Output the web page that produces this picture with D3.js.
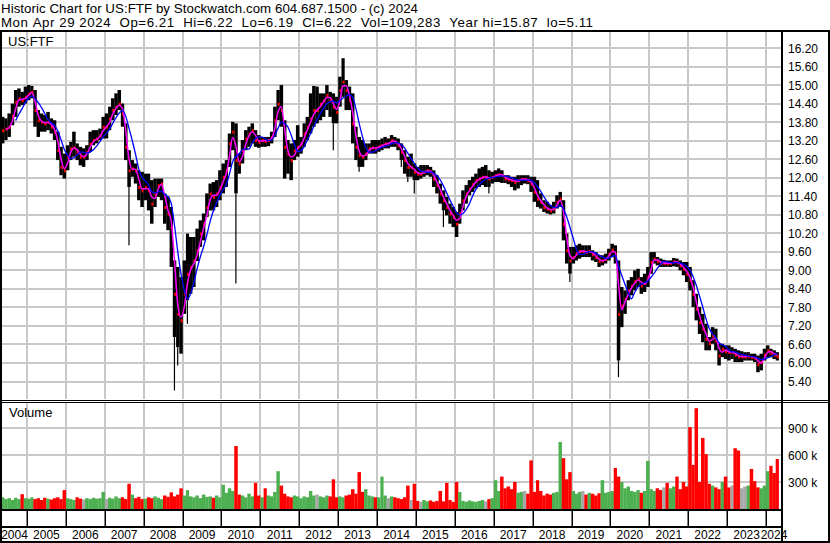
<!DOCTYPE html>
<html>
<head>
<meta charset="utf-8">
<script src="https://cdn.jsdelivr.net/npm/d3@7"></script>
<style>
body { margin: 0; background: #fff; }
svg { display: block; font-family: "Liberation Sans", Arial, sans-serif; }
</style>
</head>
<body>
<div id="chart"></div>
<script>
var width = 830,
  height = 543;

var title = "Historic Chart for US:FTF by Stockwatch.com 604.687.1500 - (c) 2024";
var quote = "Mon Apr 29 2024  Op=6.21  Hi=6.22  Lo=6.19  Cl=6.22  Vol=109,283  Year hi=15.87  lo=5.11";
var symbol = "US:FTF";

// monthly bars, first one is May 2004, last one Apr 2024
var firstMonth = new Date(2004, 4, 1);
var lastDay = new Date(2024, 3, 29);
var years = [2004, 2005, 2006, 2007, 2008, 2009, 2010, 2011, 2012, 2013, 2014,
  2015, 2016, 2017, 2018, 2019, 2020, 2021, 2022, 2023, 2024];
var priceTicks = [5.40, 6.00, 6.60, 7.20, 7.80, 8.40, 9.00, 9.60, 10.20, 10.80,
  11.40, 12.00, 12.60, 13.20, 13.80, 14.40, 15.00, 15.60, 16.20];
var volTicks = [300, 600, 900]; // thousands

var closes = [
  13.54, 13.59, 13.65, 14.0, 14.46, 14.57, 14.51, 14.62,
  14.73, 14.78, 14.19, 13.86, 13.81, 13.76, 13.81, 13.65, 13.49, 12.89, 12.35, 12.24,
  12.68, 12.95, 12.98, 12.84, 12.68, 12.68, 12.84, 13.11, 13.22, 13.27, 13.38, 13.65,
  13.65, 13.92, 14.19, 14.30, 14.40, 14.08, 13.0, 12.24, 12.30, 12.24, 11.70, 11.59,
  11.70, 11.59, 11.16, 11.49, 11.76, 11.81, 11.05, 10.84, 10.4, 8.24, 7.59, 7.38,
  8.24, 8.89, 9.11, 9.32, 9.65, 10.19, 10.51, 11.05, 11.49, 11.38, 11.49, 11.70,
  12.03, 12.24, 13.11, 13.49, 12.57, 12.46, 12.89, 13.27, 13.43, 13.54, 13.22, 13.16,
  13.22, 13.19, 13.22, 13.32, 13.86, 14.40, 14.19, 13.0, 12.78, 12.57, 12.89, 13.0,
  13.11, 13.43, 13.65, 13.92, 14.19, 14.19, 14.40, 14.51, 14.68, 14.51, 14.30, 14.13,
  14.84, 15.11, 14.84, 14.51, 13.76, 13.0, 12.73, 12.68, 12.78, 12.95, 12.98, 12.95,
  13.02, 13.05, 13.11, 13.11, 13.22, 13.16, 13.05, 12.84, 12.57, 12.35, 12.35, 12.19,
  12.13, 12.13, 12.19, 12.24, 12.19, 11.97, 11.76, 11.49, 11.27, 11.05, 10.84, 10.73,
  10.51, 10.84, 11.27, 11.49, 11.65, 11.79, 11.92, 11.97, 12.03, 12.03, 11.97, 12.03,
  12.08, 12.11, 12.08, 11.97, 11.94, 11.92, 11.86, 11.92, 11.96, 11.96, 11.92, 11.81,
  11.54, 11.32, 11.22, 11.05, 11.0, 10.94, 11.0, 11.22, 11.32, 10.51, 9.65, 9.32,
  9.43, 9.56, 9.63, 9.63, 9.59, 9.63, 9.52, 9.43, 9.30, 9.32, 9.38, 9.54,
  9.67, 9.54, 7.59, 7.86, 8.08, 8.35, 8.51, 8.65, 8.73, 8.51, 8.59, 8.78,
  9.27, 9.38, 9.30, 9.24, 9.24, 9.22, 9.24, 9.29, 9.26, 9.16, 9.05, 8.89,
  8.68, 8.24, 7.76, 7.32, 7.11, 6.78, 6.64, 6.89, 6.73, 6.24, 6.46, 6.38,
  6.35, 6.35, 6.27, 6.21, 6.21, 6.21, 6.22, 6.19, 6.17, 5.97, 6.03, 6.27,
  6.41, 6.33, 6.27, 6.22
];

var highs = [
  13.97, 13.92, 14.08, 14.40, 14.84, 14.89, 14.78, 14.95,
  15.0, 14.97, 14.84, 14.19, 14.08, 14.03, 14.13, 13.92, 13.86, 13.49, 13.0, 12.78,
  13.05, 13.16, 13.49, 13.11, 13.0, 12.95, 13.05, 13.49, 13.54, 13.54, 13.59, 13.97,
  14.08, 14.30, 14.57, 14.73, 14.84, 14.40, 13.76, 12.89, 12.57, 12.46, 12.24, 12.19,
  12.13, 12.13, 11.92, 11.97, 11.97, 11.97, 11.49, 11.38, 11.05, 9.32, 9.11, 8.78,
  9.32, 10.19, 10.08, 10.08, 10.35, 10.62, 10.84, 11.49, 11.81, 11.86, 11.92, 12.24,
  12.46, 12.57, 13.43, 13.81, 13.76, 12.78, 13.22, 13.54, 13.65, 13.76, 13.54, 13.38,
  13.32, 13.32, 13.32, 13.49, 14.30, 14.84, 15.0, 13.86, 13.22, 13.11, 13.22, 13.70,
  13.32, 13.76, 13.97, 14.73, 14.97, 14.95, 14.73, 14.73, 15.0, 14.78, 14.73, 14.62,
  15.27, 15.87, 15.16, 14.95, 14.73, 13.65, 13.32, 13.22, 13.11, 13.11, 13.22, 13.22,
  13.22, 13.27, 13.32, 13.27, 13.38, 13.32, 13.27, 13.11, 12.89, 12.68, 12.78, 12.46,
  12.35, 12.41, 12.41, 12.41, 12.35, 12.24, 12.08, 11.81, 11.59, 11.38, 11.16, 11.05,
  10.89, 11.16, 11.59, 11.76, 11.92, 12.03, 12.13, 12.30, 12.35, 12.41, 12.24, 12.19,
  12.24, 12.30, 12.24, 12.08, 12.08, 12.03, 12.03, 12.08, 12.08, 12.08, 12.08, 12.03,
  12.03, 11.92, 11.49, 11.27, 11.22, 11.11, 11.22, 11.43, 11.54, 11.27, 10.19, 9.76,
  9.76, 9.81, 9.86, 9.81, 9.81, 9.81, 9.65, 9.59, 9.49, 9.49, 9.54, 9.70,
  9.86, 9.81, 9.32, 8.46, 8.35, 8.68, 8.78, 9.0, 9.05, 8.78, 8.89, 9.11,
  9.59, 9.59, 9.43, 9.38, 9.34, 9.32, 9.32, 9.40, 9.38, 9.32, 9.27, 9.27,
  9.11, 8.68, 8.24, 7.81, 7.59, 7.27, 6.84, 7.16, 7.11, 6.62, 6.62, 6.57,
  6.57, 6.51, 6.46, 6.41, 6.38, 6.35, 6.35, 6.30, 6.30, 6.24, 6.30, 6.46,
  6.57, 6.46, 6.41, 6.35
];

var lows = [
  13.11, 13.22, 13.32, 13.70, 13.97, 14.30, 14.35, 14.40,
  14.51, 14.57, 13.65, 13.32, 13.49, 13.49, 13.54, 13.43, 13.22, 12.57, 12.08, 11.97,
  12.24, 12.57, 12.68, 12.57, 12.40, 12.35, 12.57, 12.84, 13.05, 13.11, 13.22, 13.27,
  13.27, 13.54, 13.86, 14.03, 14.19, 13.65, 12.57, 11.70, 12.03, 11.81, 11.27, 11.05,
  11.27, 10.94, 10.51, 11.05, 11.38, 11.27, 10.51, 10.30, 9.11, 6.84, 6.51, 6.30,
  7.59, 8.03, 8.24, 8.46, 9.30, 9.76, 9.97, 10.73, 10.94, 10.94, 11.05, 11.27,
  11.49, 11.70, 12.35, 12.89, 11.49, 12.13, 12.46, 12.89, 13.0, 13.11, 13.0, 12.97,
  13.0, 13.0, 13.02, 13.11, 13.32, 13.86, 13.65, 11.97, 12.13, 11.92, 12.57, 12.68,
  12.78, 13.0, 13.22, 13.43, 13.65, 13.76, 13.86, 13.97, 14.19, 13.97, 13.76, 13.76,
  14.30, 14.62, 14.19, 14.19, 13.11, 12.57, 12.35, 12.35, 12.57, 12.78, 12.78, 12.78,
  12.84, 12.89, 12.95, 12.95, 13.0, 13.0, 12.89, 12.57, 12.13, 12.03, 12.03, 11.92,
  11.92, 11.97, 12.03, 12.08, 12.03, 11.70, 11.49, 11.16, 10.94, 10.78, 10.51, 10.40,
  10.08, 10.51, 10.94, 11.16, 11.43, 11.54, 11.65, 11.70, 11.76, 11.70, 11.70, 11.81,
  11.86, 11.86, 11.83, 11.83, 11.79, 11.70, 11.59, 11.65, 11.76, 11.81, 11.79, 11.54,
  11.22, 11.05, 11.0, 10.89, 10.84, 10.81, 10.84, 11.0, 11.05, 9.97, 9.22, 8.89,
  9.22, 9.32, 9.38, 9.43, 9.43, 9.43, 9.32, 9.27, 9.11, 9.16, 9.22, 9.32,
  9.43, 9.22, 6.08, 7.16, 7.59, 8.03, 8.19, 8.35, 8.46, 8.24, 8.30, 8.46,
  8.89, 9.22, 9.16, 9.11, 9.11, 9.11, 9.11, 9.13, 9.11, 9.0, 8.84, 8.62,
  8.35, 7.81, 7.38, 6.94, 6.67, 6.41, 6.41, 6.62, 6.41, 5.92, 6.19, 6.13,
  6.08, 6.13, 6.03, 6.03, 6.03, 6.08, 6.08, 6.08, 6.03, 5.70, 5.76, 6.08,
  6.19, 6.19, 6.13, 6.08
];

// single-day drops that stick out of the monthly range: [month index, low]
var spikes = [[39, 9.81], [53, 5.11], [54, 5.92], [57, 7.27], [72, 8.57], [102, 12.89],
  [110, 12.19], [123, 12.35], [125, 11.86], [127, 11.49], [136, 10.40], [150, 11.49],
  [175, 8.62], [190, 5.54]];

// monthly volume, thousands of shares
var volumes = [
  130, 110, 120, 100, 125, 110, 165, 120,
  115, 130, 110, 120, 100, 125, 115, 105, 120, 130, 110, 210,
  120, 110, 100, 130, 115, 105, 120, 110, 125, 115, 120, 190,
  110, 125, 115, 140, 120, 130, 110, 280, 160, 120, 135, 110,
  115, 130, 120, 140, 125, 110, 150, 135, 185, 140, 160, 230,
  150, 210, 140, 130, 150, 120, 160, 135, 140, 125, 150, 130,
  270, 180, 230, 200, 700, 160, 150, 130, 170, 140, 290, 150,
  130, 230, 150, 140, 190, 420, 260, 170, 140, 130, 150, 140,
  120, 140, 130, 200, 150, 160, 140, 130, 150, 140, 330, 130,
  140, 130, 150, 160, 220, 170, 410, 190, 220, 150, 140, 130,
  130, 360, 150, 120, 140, 130, 120, 110, 130, 260, 100, 280,
  90, 80, 100, 85, 95, 80, 90, 200, 85, 290, 100, 80,
  300, 190, 90, 80, 95, 85, 80, 90, 100, 85, 110, 120,
  320, 200, 360, 230, 250, 220, 300, 180, 190, 200, 170, 540,
  190, 320, 200, 150, 170, 160, 180, 190, 745, 565, 330, 410,
  200, 170, 190, 200, 160, 180, 170, 150, 175, 320, 180, 190,
  200, 455, 360, 300, 230, 250, 200, 190, 210, 180, 200, 535,
  220, 200, 230, 210, 240, 290, 230, 250, 360, 220, 300, 250,
  910, 490, 1120, 300, 790, 610, 280, 260, 240, 220, 300, 360,
  240, 260, 675, 650, 230, 250, 260, 445, 310, 240, 230, 260,
  420, 480, 400, 555
];

var gridColor = "#c8c8c8";

var svg = d3.select("#chart")
  .append("svg")
  .attr("width", width)
  .attr("height", height)
  .attr("viewBox", [0, 0, width, height]);

svg.append("rect").attr("width", width).attr("height", height).attr("fill", "#fff");

var plotLeft = 2, plotRight = 781;

var x = d3.scaleTime()
  .domain([new Date(2005, 0, 1), new Date(2024, 0, 1)])
  .range([27, 766]);

var y = d3.scaleLinear()
  .domain([5.4, 16.2])
  .range([381.5, 48]);

var yv = d3.scaleLinear()
  .domain([0, 900])
  .range([509, 428]);

var months = closes.map(function (c, i) {
  var start = d3.timeMonth.offset(firstMonth, i);
  var end = i == closes.length - 1 ? lastDay : d3.timeMonth.offset(firstMonth, i + 1);
  return {
    i: i, x0: x(start), x1: x(end),
    high: highs[i], low: lows[i], close: c, vol: volumes[i]
  };
});
months.forEach(function (d) { d.xc = (d.x0 + d.x1) / 2; });

function sma(arr, n) {
  return arr.map(function (v, i) {
    return i < n - 1 ? null : d3.mean(arr.slice(i - n + 1, i + 1));
  });
}
var maFast = sma(closes, 2);
var maSlow = sma(closes, 5);

// clip regions
var defs = svg.append("defs");
defs.append("clipPath").attr("id", "clipPrice")
  .append("rect").attr("x", plotLeft).attr("y", 32).attr("width", plotRight - plotLeft).attr("height", 367);
defs.append("clipPath").attr("id", "clipVol")
  .append("rect").attr("x", plotLeft).attr("y", 403).attr("width", plotRight - plotLeft).attr("height", 106);

var yearStarts = years.slice(1).map(function (yr) { return new Date(yr, 0, 1); });

// ---- price panel
var price = svg.append("g").attr("clip-path", "url(#clipPrice)");

price.selectAll(".hgrid")
  .data(priceTicks)
  .enter().append("line")
  .attr("x1", plotLeft).attr("x2", plotRight)
  .attr("y1", function (d) { return Math.round(y(d)); })
  .attr("y2", function (d) { return Math.round(y(d)); })
  .attr("stroke", gridColor).attr("stroke-width", 2);

price.selectAll(".vgrid")
  .data(yearStarts)
  .enter().append("line")
  .attr("x1", function (d) { return Math.round(x(d)); })
  .attr("x2", function (d) { return Math.round(x(d)); })
  .attr("y1", 32).attr("y2", 400)
  .attr("stroke", gridColor).attr("stroke-width", 2);

price.selectAll(".bar")
  .data(months)
  .enter().append("rect")
  .attr("x", function (d) { return d.x0; })
  .attr("width", function (d) { return d.x1 - d.x0 + 0.2; })
  .attr("y", function (d) { return y(d.high); })
  .attr("height", function (d) { return y(d.low) - y(d.high); })
  .attr("fill", "#000");

price.selectAll(".spike")
  .data(spikes)
  .enter().append("line")
  .attr("x1", function (d) { return months[d[0]].xc; })
  .attr("x2", function (d) { return months[d[0]].xc; })
  .attr("y1", function (d) { return y(lows[d[0]]); })
  .attr("y2", function (d) { return y(d[1]); })
  .attr("stroke", "#000").attr("stroke-width", 1.2);

price.selectAll(".tick-close")
  .data(months)
  .enter().append("rect")
  .attr("x", function (d) { return d.x1 - 2; })
  .attr("y", function (d) { return y(d.close) - 1; })
  .attr("width", 2).attr("height", 3)
  .attr("fill", "#ff0000");

var maLine = function (vals) {
  return d3.line()
    .defined(function (d, i) { return vals[i] != null; })
    .x(function (d) { return d.xc; })
    .y(function (d, i) { return y(vals[i]); })
    .curve(d3.curveMonotoneX);
};

price.append("path")
  .datum(months)
  .attr("d", maLine(maFast))
  .attr("fill", "none").attr("stroke", "#ff00ff").attr("stroke-width", 1.5);

price.append("path")
  .datum(months)
  .attr("d", maLine(maSlow))
  .attr("fill", "none").attr("stroke", "#0000ff").attr("stroke-width", 1.3);

// ---- volume panel
var vol = svg.append("g").attr("clip-path", "url(#clipVol)");

vol.selectAll(".vh")
  .data(volTicks)
  .enter().append("line")
  .attr("x1", plotLeft).attr("x2", plotRight)
  .attr("y1", function (d) { return Math.round(yv(d)); })
  .attr("y2", function (d) { return Math.round(yv(d)); })
  .attr("stroke", gridColor).attr("stroke-width", 2);

vol.selectAll(".vv")
  .data(yearStarts)
  .enter().append("line")
  .attr("x1", function (d) { return Math.round(x(d)); })
  .attr("x2", function (d) { return Math.round(x(d)); })
  .attr("y1", 403).attr("y2", 509)
  .attr("stroke", gridColor).attr("stroke-width", 2);

vol.selectAll(".vbar")
  .data(months)
  .enter().append("rect")
  .attr("x", function (d) { return d.x0; })
  .attr("width", function (d) { return d.x1 - d.x0 + 0.2; })
  .attr("y", function (d) { return yv(d.vol); })
  .attr("height", function (d) { return yv(0) - yv(d.vol); })
  .attr("fill", function (d) {
    if (d.i == 0) return "#4cb050";
    var prev = closes[d.i - 1];
    if (d.close > prev) return "#4cb050";
    if (d.close < prev) return "#ff0000";
    return "#a8a8a8";
  });

// ---- frame
var frame = svg.append("g").attr("fill", "#000");
frame.append("rect").attr("x", 0).attr("y", 30).attr("width", width).attr("height", 2);
frame.append("rect").attr("x", 0).attr("y", 30).attr("width", 2).attr("height", height - 30);
frame.append("rect").attr("x", width - 2).attr("y", 30).attr("width", 2).attr("height", height - 30);
frame.append("rect").attr("x", plotRight).attr("y", 30).attr("width", 2).attr("height", height - 30);
frame.append("rect").attr("x", 0).attr("y", 400).attr("width", width).attr("height", 1);
frame.append("rect").attr("x", 0).attr("y", 402).attr("width", width).attr("height", 1);
frame.append("rect").attr("x", 0).attr("y", 509).attr("width", plotRight).attr("height", 2);
frame.append("rect").attr("x", 0).attr("y", 526).attr("width", plotRight).attr("height", 2);
frame.append("rect").attr("x", 0).attr("y", 541).attr("width", width).attr("height", 2);

frame.selectAll(".ysep")
  .data(yearStarts)
  .enter().append("rect")
  .attr("x", function (d) { return Math.round(x(d)) - 0.5; })
  .attr("y", 511).attr("width", 1.5).attr("height", 15);

// ---- text
svg.append("text").attr("x", 1).attr("y", 13)
  .attr("font-size", "13.3px")
  .attr("textLength", 417).attr("lengthAdjust", "spacing")
  .text(title);
svg.append("text").attr("x", 1).attr("y", 27)
  .attr("font-size", "13.3px")
  .attr("textLength", 592).attr("lengthAdjust", "spacing")
  .text(quote.replace(/ /g, "\u00a0"));

svg.append("text").attr("x", 8).attr("y", 46).attr("font-size", "13px").text(symbol);
svg.append("text").attr("x", 9).attr("y", 417).attr("font-size", "13px").text("Volume");

svg.selectAll(".plabel")
  .data(priceTicks)
  .enter().append("text")
  .attr("x", 788)
  .attr("y", function (d) { return y(d) + 4.5; })
  .attr("font-size", "12px")
  .text(function (d) { return d.toFixed(2); });

svg.selectAll(".vlabel")
  .data(volTicks)
  .enter().append("text")
  .attr("x", 788)
  .attr("y", function (d) { return yv(d) + 4.5; })
  .attr("font-size", "12px")
  .text(function (d) { return d + " k"; });

svg.selectAll(".ylabel")
  .data(years)
  .enter().append("text")
  .attr("x", function (yr) {
    var a = Math.max(x(new Date(yr, 0, 1)), plotLeft);
    var b = Math.min(x(new Date(yr + 1, 0, 1)), plotRight + 1);
    return (a + b) / 2;
  })
  .attr("y", 538.5)
  .attr("text-anchor", "middle")
  .attr("font-size", "12px")
  .text(function (yr) { return yr; });
</script>
</body>
</html>
